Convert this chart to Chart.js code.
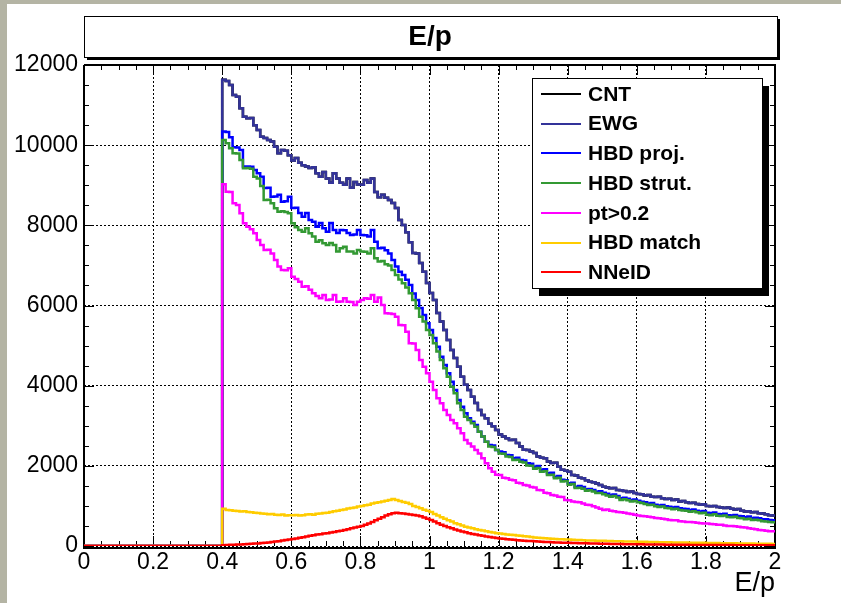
<!DOCTYPE html>
<html>
<head>
<meta charset="utf-8">
<script src="https://cdn.jsdelivr.net/npm/chart.js@4.4.1/dist/chart.umd.min.js"></script>
<style>
  html, body { margin: 0; padding: 0; background: #ffffff; }
  #wrap { position: absolute; left: 0; top: 0; width: 841px; height: 603px; }
</style>
</head>
<body>
<div id="wrap"><canvas id="c" width="841" height="603"></canvas></div>
<script>
// ---------------- data ----------------
// histogram: 0.01-wide bins, first filled bin starts at E/p = 0.40, last at 1.99
const seriesNames = ['CNT', 'EWG', 'HBD proj.', 'HBD strut.', 'pt>0.2', 'HBD match', 'NNeID'];
const seriesColors = ['#000000', '#333399', '#0000ff', '#339933', '#ff00ff', '#ffcc00', '#ff0000'];
const xTickLabels = ['0', '0.2', '0.4', '0.6', '0.8', '1', '1.2', '1.4', '1.6', '1.8', '2'];
const yTickLabels = ['0', '2000', '4000', '6000', '8000', '10000', '12000'];

const ewgCounts = [
  11630, 11600, 11500, 11250, 11210, 10920, 10710, 10670, 10680, 10500,
  10380, 10210, 10180, 10130, 10090, 9960, 9800, 9880, 9860, 9750,
  9620, 9680, 9560, 9500, 9470, 9430, 9450, 9300, 9210, 9330,
  9170, 9060, 9300, 9170, 9060, 9010, 9170, 8940, 9080, 9020,
  9010, 9130, 9060, 9170, 8830, 8700, 8760, 8690, 8630, 8560,
  8430, 8130, 8010, 7830, 7580, 7310, 7300, 7060, 6845, 6560,
  6310, 6140, 5810, 5600, 5390, 5140, 4890, 4690, 4475, 4225,
  4020, 3890, 3725, 3565, 3390, 3270, 3190, 3050, 2990, 2895,
  2780, 2730, 2690, 2645, 2650, 2570, 2480, 2400, 2395, 2355,
  2320, 2230, 2200, 2190, 2105, 2070, 2075, 1980, 1900, 1880,
  1855, 1770, 1760, 1700, 1690, 1640, 1605, 1590, 1560, 1520,
  1480, 1460, 1440, 1450, 1400, 1390, 1370, 1350, 1360, 1320,
  1300, 1290, 1260, 1270, 1230, 1220, 1230, 1190, 1170, 1180,
  1150, 1160, 1110, 1120, 1090, 1070, 1080, 1050, 1030, 1040,
  1000, 990, 1000, 970, 960, 950, 960, 930, 910, 920,
  880, 860, 870, 840, 850, 820, 810, 790, 770, 760
];
// the black CNT histogram is not visible: it lies exactly under EWG
const cntCounts = ewgCounts;

const hbdProjCounts = [
  10340, 10330, 10200, 9950, 9940, 9880, 9465, 9470, 9460, 9380,
  9300, 9215, 8930, 8940, 8715, 8720, 8760, 8590, 8600, 8715,
  8430, 8440, 8310, 8215, 8310, 8130, 8090, 7965, 8060, 7930,
  7840, 8060, 7885, 7810, 7885, 7880, 7810, 7760, 7770, 7885,
  7760, 7750, 7720, 7885, 7590, 7430, 7440, 7380, 7300, 7135,
  6970, 6845, 6760, 6640, 6510, 6300, 6140, 5940, 5760, 5555,
  5390, 5190, 4970, 4720, 4515, 4310, 4100, 3890, 3640, 3475,
  3310, 3185, 3100, 3020, 2850, 2730, 2600, 2520, 2510, 2395,
  2355, 2340, 2270, 2265, 2190, 2200, 2145, 2130, 2065, 2050,
  1980, 1995, 1900, 1915, 1815, 1830, 1730, 1745, 1650, 1640,
  1565, 1580, 1480, 1495, 1470, 1415, 1425, 1400, 1355, 1365,
  1330, 1305, 1270, 1285, 1250, 1190, 1205, 1180, 1150, 1160,
  1130, 1105, 1090, 1060, 1075, 1030, 1010, 1025, 990, 980,
  960, 975, 940, 930, 925, 900, 910, 880, 860, 875,
  830, 820, 835, 800, 790, 805, 770, 760, 775, 750,
  740, 720, 735, 700, 705, 690, 670, 665, 650, 640
];

const hbdStrutCounts = [
  10130, 10050, 9920, 9800, 9790, 9630, 9425, 9430, 9410, 9215,
  9170, 8980, 8630, 8640, 8550, 8425, 8340, 8350, 8330, 8300,
  8050, 7950, 7885, 7840, 7925, 7800, 7720, 7590, 7630, 7550,
  7510, 7560, 7510, 7345, 7430, 7465, 7345, 7350, 7300, 7385,
  7345, 7340, 7300, 7430, 7180, 7095, 7110, 7030, 7000, 6885,
  6760, 6650, 6555, 6450, 6305, 6140, 5930, 5720, 5600, 5390,
  5265, 5060, 4850, 4640, 4435, 4225, 3975, 3810, 3560, 3395,
  3225, 3145, 3060, 2975, 2850, 2730, 2600, 2480, 2470, 2395,
  2310, 2300, 2230, 2220, 2145, 2150, 2100, 2085, 2010, 2000,
  1930, 1945, 1850, 1865, 1770, 1780, 1690, 1705, 1610, 1620,
  1530, 1545, 1450, 1455, 1430, 1380, 1390, 1360, 1320, 1325,
  1290, 1260, 1230, 1245, 1210, 1150, 1165, 1140, 1110, 1120,
  1090, 1070, 1050, 1020, 1030, 990, 970, 985, 950, 940,
  915, 930, 900, 885, 880, 855, 870, 840, 815, 830,
  780, 770, 790, 755, 750, 760, 725, 720, 730, 700,
  690, 670, 680, 650, 655, 640, 620, 610, 600, 590
];

const ptCutCounts = [
  9025, 8840, 8830, 8550, 8510, 8300, 8050, 7965, 7900, 7800,
  7635, 7510, 7385, 7390, 7300, 7135, 6970, 6885, 6880, 6930,
  6720, 6660, 6595, 6470, 6480, 6390, 6305, 6240, 6180, 6260,
  6140, 6150, 6260, 6095, 6100, 6180, 6095, 6090, 6015, 6095,
  6140, 6180, 6170, 6260, 6095, 6200, 6015, 5805, 5800, 5790,
  5720, 5515, 5510, 5345, 5060, 5050, 4890, 4640, 4475, 4310,
  4100, 3890, 3685, 3560, 3395, 3270, 3145, 3060, 2935, 2810,
  2645, 2560, 2480, 2395, 2310, 2190, 2065, 1940, 1855, 1780,
  1770, 1700, 1690, 1650, 1640, 1580, 1565, 1520, 1510, 1470,
  1460, 1400, 1390, 1330, 1315, 1270, 1260, 1230, 1220, 1150,
  1140, 1110, 1100, 1090, 1060, 1030, 1020, 990, 960, 930,
  900, 910, 880, 870, 850, 840, 830, 810, 800, 780,
  760, 750, 740, 730, 720, 700, 690, 680, 670, 650,
  640, 640, 620, 610, 600, 600, 590, 580, 570, 560,
  560, 550, 540, 530, 530, 510, 500, 500, 490, 480,
  470, 460, 440, 430, 420, 400, 390, 380, 370, 370
];

const hbdMatchCounts = [
  930, 900, 895, 880, 875, 860, 870, 850, 845, 830,
  825, 810, 805, 790, 800, 780, 775, 785, 760, 770,
  765, 775, 760, 770, 785, 790, 780, 805, 810, 825,
  830, 850, 865, 880, 900, 910, 935, 950, 960, 985,
  1000, 1015, 1030, 1060, 1080, 1090, 1110, 1130, 1150, 1170,
  1150, 1125, 1100, 1080, 1050, 1000, 970, 940, 905, 880,
  850, 800, 760, 720, 680, 640, 610, 570, 540, 510,
  480, 460, 440, 420, 400, 385, 365, 350, 335, 320,
  310, 300, 290, 280, 275, 265, 255, 245, 235, 225,
  215, 205, 200, 195, 190, 180, 175, 170, 168, 165,
  160, 155, 150, 148, 145, 140, 138, 135, 132, 130,
  128, 125, 122, 120, 118, 116, 114, 112, 111, 110,
  108, 106, 104, 102, 100, 98, 96, 95, 94, 92,
  90, 89, 88, 86, 85, 84, 82, 80, 79, 78,
  76, 75, 74, 72, 71, 70, 68, 67, 66, 65,
  64, 62, 61, 60, 58, 57, 56, 55, 54, 52
];

const nneidCounts = [
  20, 25, 30, 30, 35, 40, 45, 50, 55, 60,
  65, 75, 80, 90, 100, 110, 120, 135, 150, 160,
  175, 190, 205, 220, 240, 255, 270, 285, 295, 310,
  320, 335, 350, 365, 380, 400, 420, 440, 460, 480,
  500, 530, 560, 600, 640, 680, 720, 760, 790, 820,
  830, 820, 810, 800, 785, 775, 760, 740, 710, 680,
  650, 610, 570, 530, 500, 470, 440, 410, 385, 360,
  340, 320, 300, 285, 270, 255, 240, 225, 210, 200,
  190, 180, 170, 160, 155, 145, 140, 133, 127, 122,
  116, 111, 106, 101, 97, 93, 90, 87, 84, 81,
  78, 75, 72, 70, 68, 66, 64, 62, 60, 58,
  56, 54, 52, 50, 49, 48, 46, 45, 44, 43,
  42, 41, 40, 39, 38, 37, 36, 35, 34, 33,
  32, 31, 30, 30, 29, 28, 28, 27, 26, 26,
  25, 25, 24, 24, 23, 23, 22, 22, 21, 21,
  20, 20, 19, 19, 18, 18, 17, 17, 16, 16
];

const seriesCounts = [cntCounts, ewgCounts, hbdProjCounts, hbdStrutCounts, ptCutCounts, hbdMatchCounts, nneidCounts];

// ---------------- histogram geometry ----------------
const X_MIN = 0, X_MAX = 2, Y_MIN = 0, Y_MAX = 12000;
const FIRST_BIN = 40; // first filled bin index (bin width 0.01)

function histPoints(counts) {
  const pts = [{ x: X_MIN, y: 0 }];
  counts.forEach((c, i) => pts.push({ x: (FIRST_BIN + i) / 100, y: c }));
  pts.push({ x: X_MAX, y: counts[counts.length - 1] });
  return pts;
}

const FONT = "'Liberation Sans', Arial, Helvetica, sans-serif";

const datasets = seriesNames.map((name, i) => ({
  label: name,
  data: histPoints(seriesCounts[i]),
  borderColor: seriesColors[i],
  backgroundColor: seriesColors[i],
  borderWidth: 2.5,
  pointRadius: 0,
  pointHoverRadius: 0,
  stepped: true,
  tension: 0,
  fill: false,
  // ROOT draws later histograms on top of earlier ones
  order: seriesNames.length - 1 - i
}));

// ---------------- ROOT-style decorations ----------------
const rootDecor = {
  id: 'rootDecor',
  beforeDraw(chart) {
    const ctx = chart.ctx;
    ctx.save();
    ctx.fillStyle = '#b4b4a4';
    ctx.fillRect(0, 0, chart.width, chart.height);
    ctx.fillStyle = '#ffffff';
    ctx.fillRect(7, 4, chart.width - 7, chart.height - 4);
    ctx.restore();
  },
  beforeDatasetsDraw(chart) {
    const { ctx, chartArea: a, scales } = chart;
    const xs = scales.x, ys = scales.y;
    ctx.save();
    // inward ticks on all four sides
    ctx.strokeStyle = '#000';
    ctx.lineWidth = 1;
    ctx.beginPath();
    for (let k = 0; k <= 40; k++) {
      const px = Math.round(xs.getPixelForValue(k * 0.05)) + 0.5;
      const len = (k % 4 === 0) ? 10 : 5;
      ctx.moveTo(px, a.bottom); ctx.lineTo(px, a.bottom - len);
      ctx.moveTo(px, a.top); ctx.lineTo(px, a.top + len);
    }
    for (let k = 0; k <= 24; k++) {
      const py = Math.round(ys.getPixelForValue(k * 500)) + 0.5;
      const len = (k % 4 === 0) ? 10 : 5;
      ctx.moveTo(a.left, py); ctx.lineTo(a.left + len, py);
      ctx.moveTo(a.right, py); ctx.lineTo(a.right - len, py);
    }
    ctx.stroke();
    // frame (bottom axis sits just under the zero line of the histograms)
    ctx.lineWidth = 2;
    ctx.beginPath();
    ctx.moveTo(a.left, a.top); ctx.lineTo(a.right, a.top);
    ctx.lineTo(a.right, a.bottom + 2);
    ctx.moveTo(a.left - 1, a.bottom + 2); ctx.lineTo(a.right + 1, a.bottom + 2);
    ctx.moveTo(a.left, a.top); ctx.lineTo(a.left, a.bottom + 2);
    ctx.stroke();
    ctx.restore();
  },
  afterDraw(chart) {
    const { ctx, chartArea: a } = chart;
    ctx.save();
    // title box with shadow
    const tb = { x: a.left, y: 16, w: 693, h: 41 };
    ctx.fillStyle = '#000';
    ctx.fillRect(tb.x + 3, tb.y + 3, tb.w, tb.h);
    ctx.fillStyle = '#fff';
    ctx.fillRect(tb.x, tb.y, tb.w, tb.h);
    ctx.lineWidth = 1;
    ctx.strokeStyle = '#000';
    ctx.strokeRect(tb.x + 0.5, tb.y + 0.5, tb.w, tb.h);
    ctx.fillStyle = '#000';
    ctx.font = 'bold 28px ' + FONT;
    ctx.textAlign = 'center';
    ctx.textBaseline = 'alphabetic';
    ctx.fillText('E/p', 430, 45);

    // legend box with shadow
    const lb = { x: 532, y: 78, w: 230, h: 210 };
    ctx.fillStyle = '#000';
    ctx.fillRect(lb.x + 7, lb.y + 8, lb.w, lb.h);
    ctx.fillStyle = '#fff';
    ctx.fillRect(lb.x, lb.y, lb.w, lb.h);
    ctx.strokeStyle = '#000';
    ctx.lineWidth = 1;
    ctx.strokeRect(lb.x + 0.5, lb.y + 0.5, lb.w, lb.h);
    ctx.font = 'bold 21px ' + FONT;
    ctx.textAlign = 'left';
    ctx.textBaseline = 'middle';
    chart.data.datasets.forEach((ds, i) => {
      const yRow = 94 + i * 29.7;
      ctx.strokeStyle = ds.borderColor;
      ctx.lineWidth = 2;
      ctx.beginPath();
      ctx.moveTo(541, Math.round(yRow));
      ctx.lineTo(581, Math.round(yRow));
      ctx.stroke();
      ctx.fillStyle = '#000';
      ctx.fillText(ds.label, 588, yRow + 1);
    });
    ctx.restore();
  }
};

new Chart(document.getElementById('c'), {
  type: 'line',
  data: { datasets },
  plugins: [rootDecor],
  options: {
    responsive: false,
    animation: false,
    devicePixelRatio: 1,
    layout: { padding: { top: 65, right: 66, left: 0, bottom: 0 } },
    plugins: { legend: { display: false }, tooltip: { enabled: false }, title: { display: false } },
    scales: {
      x: {
        type: 'linear',
        min: X_MIN, max: X_MAX,
        afterFit: (s) => { s.height = 57; },
        ticks: {
          stepSize: 0.2,
          autoSkip: false,
          maxRotation: 0,
          padding: 3,
          color: '#000',
          font: { family: FONT, size: 23 },
          callback: (v, i) => xTickLabels[i]
        },
        grid: { color: '#000', lineWidth: 1, drawTicks: false },
        border: { display: false, dash: [2, 2] },
        title: {
          display: true, text: 'E/p', align: 'end', color: '#000',
          font: { family: FONT, size: 27 }, padding: { top: 0, bottom: 3 }
        }
      },
      y: {
        type: 'linear',
        min: Y_MIN, max: Y_MAX,
        afterFit: (s) => { s.width = 84; },
        ticks: {
          stepSize: 2000,
          autoSkip: false,
          padding: 6,
          color: '#000',
          font: { family: FONT, size: 23 },
          callback: (v, i) => yTickLabels[i]
        },
        grid: { color: '#000', lineWidth: 1, drawTicks: false },
        border: { display: false, dash: [2, 2] }
      }
    }
  }
});
</script>
</body>
</html>
